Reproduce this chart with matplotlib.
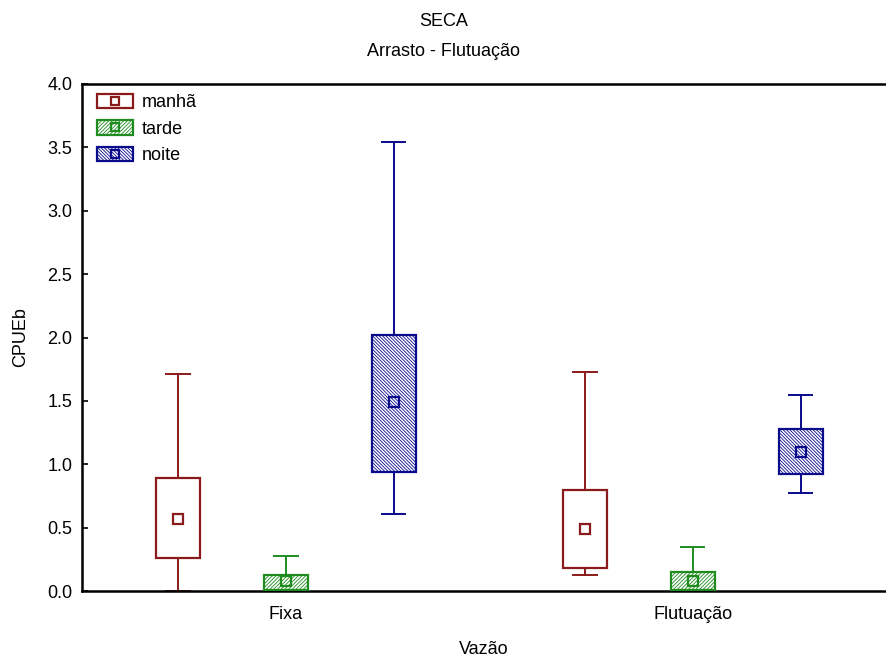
import matplotlib
matplotlib.use("Agg")
import matplotlib.pyplot as plt
from matplotlib.patches import Rectangle, Patch
from matplotlib.lines import Line2D

plt.rcParams['font.family'] = ['Liberation Sans', 'DejaVu Sans']
plt.rcParams['hatch.linewidth'] = 0.6

groups = ["Fixa", "Flutuação"]
periods = ["manhã", "tarde", "noite"]

# per period: values for [Fixa, Flutuação]
whisker_low = {"manhã": [0.00, 0.13], "tarde": [0.00, 0.00], "noite": [0.61, 0.77]}
box_low = {"manhã": [0.26, 0.18], "tarde": [0.01, 0.01], "noite": [0.94, 0.92]}
mean_val = {"manhã": [0.57, 0.49], "tarde": [0.08, 0.08], "noite": [1.49, 1.10]}
box_high = {"manhã": [0.89, 0.80], "tarde": [0.125, 0.15], "noite": [2.02, 1.28]}
whisker_high = {"manhã": [1.71, 1.73], "tarde": [0.28, 0.35], "noite": [3.54, 1.55]}

colors = {"manhã": "#8B1A1A", "tarde": "#1E8C1E", "noite": "#0A0A8C"}
hatches = {"manhã": None, "tarde": "/" * 9, "noite": "\\" * 10}
offsets = {"manhã": -0.265, "tarde": 0.0, "noite": 0.265}

box_w = 0.108
cap_w = 0.057
fs = 13

fig = plt.figure(figsize=(8.87, 6.58), dpi=100)
ax = fig.add_axes([82 / 887, 67 / 658, 803 / 887, 507 / 658])

for p in periods:
    c = colors[p]
    for gi, g in enumerate(groups):
        x = gi + offsets[p]
        lo, hi = box_low[p][gi], box_high[p][gi]
        ax.add_patch(Rectangle((x - box_w / 2, lo), box_w, hi - lo,
                               facecolor="white", edgecolor=c, hatch=hatches[p],
                               linewidth=1.6, zorder=3))
        # whiskers
        ax.plot([x, x], [hi, whisker_high[p][gi]], color=c, lw=1.4, zorder=2)
        ax.plot([x, x], [whisker_low[p][gi], lo], color=c, lw=1.4, zorder=2)
        for w in (whisker_low[p][gi], whisker_high[p][gi]):
            ax.plot([x - cap_w / 2, x + cap_w / 2], [w, w], color=c, lw=1.4, zorder=2)
        ax.plot([x], [mean_val[p][gi]], marker="s", markersize=6.5,
                markerfacecolor="none", markeredgecolor=c, markeredgewidth=1.6,
                zorder=4, linestyle="none")

ax.set_xlim(-0.501, 1.472)
ax.set_ylim(0, 4.0)
ax.set_xticks([0, 1])
ax.set_xticklabels(groups, fontsize=fs)
ax.set_yticks([0, 0.5, 1.0, 1.5, 2.0, 2.5, 3.0, 3.5, 4.0])
ax.set_yticklabels(["0.0", "0.5", "1.0", "1.5", "2.0", "2.5", "3.0", "3.5", "4.0"], fontsize=fs)
ax.tick_params(axis="both", direction="in", length=4, width=1.2)
ax.tick_params(axis="y", pad=7)
ax.tick_params(axis="x", pad=11)
ax.spines["right"].set_visible(False)
for s in ("left", "top", "bottom"):
    ax.spines[s].set_linewidth(1.8)

ax.set_xlabel("Vazão", fontsize=fs, labelpad=13)
ax.set_ylabel("CPUEb", fontsize=fs, labelpad=13)

fig.text(0.5, 1 - 21 / 658, "SECA", ha="center", va="center", fontsize=fs)
fig.text(0.5, 1 - 51 / 658, "Arrasto - Flutuação", ha="center", va="center", fontsize=fs)

handles = []
for p in periods:
    patch = Patch(facecolor="white", edgecolor=colors[p], hatch=hatches[p], linewidth=1.6)
    mk = Line2D([], [], marker="s", markersize=6, markerfacecolor="none",
                markeredgecolor=colors[p], markeredgewidth=1.6, linestyle="none")
    handles.append((patch, mk))
ax.legend(handles, periods, loc="upper left", bbox_to_anchor=(5 / 803, 1.0),
          frameon=False, fontsize=fs,
          handlelength=2.0, handleheight=0.85, handletextpad=0.5,
          labelspacing=0.5, borderaxespad=0.4, borderpad=0.15)

fig.savefig("out.png", dpi=100)
